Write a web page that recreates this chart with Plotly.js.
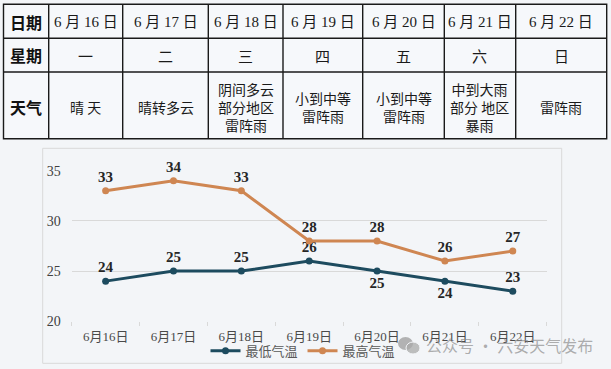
<!DOCTYPE html>
<html><head><meta charset="utf-8">
<script src="https://cdn.plot.ly/plotly-3.0.1.min.js"></script>
<style>body{margin:0;background:#f3f5f8}#chart{width:611px;height:369px}</style>
</head><body><div id="chart"></div>
<script>
// ---- data ----
const categories = ["6月16日","6月17日","6月18日","6月19日","6月20日","6月21日","6月22日"];
const tableDates = ["6 月 16 日","6 月 17 日","6 月 18 日","6 月 19 日","6 月 20 日","6 月 21 日","6 月 22 日"];
const weekdays = ["一","二","三","四","五","六","日"];
const weather = ["晴 天","晴转多云","阴间多云<br>部分地区<br>雷阵雨","小到中等<br>雷阵雨","小到中等<br>雷阵雨","中到大雨<br>部分 地区<br>暴雨","雷阵雨"];
const rowHeaders = ["日期","星期","天气"];
const minTemp = [24,25,25,26,25,24,23];
const maxTemp = [33,34,33,28,28,26,27];
const minLabelPos = ["top center","top center","top center","top center","bottom center","bottom center","top center"];
const seriesNames = ["最低气温","最高气温"];
const yTicks = [20,25,30,35];
const watermark = "公众号 · 六安天气发布";

// ---- layout geometry (pixels) ----
const W = 611, H = 369;
const colEdges = [3.5,48.7,122.7,208.3,283,362.7,444.3,515.7,606.7];
const rowEdges = [4.3,38.3,72,138.7];
const rowCenters = [21.5,55.5,107.3];
const px = x => x / W, py = y => 1 - y / H;

const shapes = [];
const annotations = [];
const lineStyle = {color:"#1a1a1a", width:1.4};
// table outer + grid
shapes.push({type:"rect", xref:"paper", yref:"paper", x0:px(colEdges[0]), x1:px(colEdges[colEdges.length-1]), y0:py(rowEdges[0]), y1:py(rowEdges[rowEdges.length-1]), line:lineStyle, fillcolor:"#f6f8fb", layer:"below"});
colEdges.slice(1,-1).forEach(x => shapes.push({type:"line", xref:"paper", yref:"paper", x0:px(x), x1:px(x), y0:py(rowEdges[0]), y1:py(rowEdges[3]), line:lineStyle}));
rowEdges.slice(1,-1).forEach(y => shapes.push({type:"line", xref:"paper", yref:"paper", x0:px(colEdges[0]), x1:px(colEdges[8]), y0:py(y), y1:py(y), line:lineStyle}));
// chart frame
shapes.push({type:"rect", xref:"paper", yref:"paper", x0:px(42.7), x1:px(561.7), y0:py(148.3), y1:py(363.3), line:{color:"#d9d9d9", width:1}, layer:"below"});

const cellFont = {family:"Noto Sans CJK SC, sans-serif", size:14, color:"#1a1a1a"};
rowHeaders.forEach((t,i) => annotations.push({xref:"paper", yref:"paper", x:px((colEdges[0]+colEdges[1])/2), y:py(rowCenters[i]), text:"<b>"+t+"</b>", showarrow:false, xanchor:"center", yanchor:"middle", font:{family:"Noto Sans CJK SC, sans-serif", size:16, color:"#111"}}));
const rows = [tableDates, weekdays, weather];
rows.forEach((r,ri) => r.forEach((t,ci) => annotations.push({xref:"paper", yref:"paper", x:px((colEdges[ci+1]+colEdges[ci+2])/2), y:py(rowCenters[ri]), text:t, showarrow:false, xanchor:"center", yanchor:"middle",
  font: ri===0 ? {family:"Liberation Serif, Noto Sans CJK SC, serif", size:15, color:"#1a1a1a"} : (ri===1 ? {family:"Noto Sans CJK SC, sans-serif", size:15, color:"#1a1a1a"} : cellFont)})));

// watermark
annotations.push({xref:"paper", yref:"paper", x:px(424), y:py(345), text:watermark, showarrow:false, xanchor:"left", yanchor:"middle", font:{family:"Noto Sans CJK SC, sans-serif", size:16, color:"rgba(140,140,140,0.7)"}});
shapes.push({type:"circle", xref:"paper", yref:"paper", x0:px(398), x1:px(413), y0:py(350), y1:py(337), fillcolor:"rgba(150,150,150,0.7)", line:{width:0}});
shapes.push({type:"circle", xref:"paper", yref:"paper", x0:px(406), x1:px(420), y0:py(354), y1:py(342), fillcolor:"rgba(170,170,170,0.75)", line:{color:"#f3f5f8", width:1}});

const labelFont = {family:"Liberation Serif, serif", size:15, color:"#262626", weight:700};
const traces = [
  {x:categories, y:minTemp, name:seriesNames[0], type:"scatter", mode:"lines+markers+text", text:minTemp.map(String), textposition:minLabelPos, textfont:labelFont,
   line:{color:"#1d4b5f", width:3}, marker:{size:7, color:"#1d4b5f"}, cliponaxis:false},
  {x:categories, y:maxTemp, name:seriesNames[1], type:"scatter", mode:"lines+markers+text", text:maxTemp.map(String), textposition:"top center", textfont:labelFont,
   line:{color:"#cf8652", width:3}, marker:{size:7, color:"#cf8652"}, cliponaxis:false}
];

const layout = {
  width:W, height:H, margin:{l:0,r:0,t:0,b:0},
  paper_bgcolor:"#f3f5f8", plot_bgcolor:"rgba(0,0,0,0)",
  showlegend:true,
  legend:{orientation:"h", x:px(303), y:py(350.7), xanchor:"center", yanchor:"middle", font:{family:"Liberation Serif, Noto Sans CJK SC, serif", size:13, color:"#595959"}, bgcolor:"rgba(0,0,0,0)", itemwidth:30, tracegroupgap:0},
  xaxis:{domain:[px(71.7), px(546.7)], range:[-0.5,6.5], type:"category", showgrid:false, zeroline:false, showline:false,
    ticks:"outside", tickson:"boundaries", ticklen:4, tickcolor:"#d9d9d9", ticklabelstandoff:6,
    tickfont:{family:"Liberation Serif, Noto Sans CJK SC, serif", size:13, color:"#4a4a4a"}, anchor:"y"},
  yaxis:{domain:[py(321.3), py(170.7)], range:[20,35], tickvals:yTicks, showgrid:true, gridcolor:"#d9d9d9", gridwidth:1, zeroline:false, showline:false,
    ticks:"", ticklabelstandoff:10, tickfont:{family:"Liberation Serif, serif", size:14, color:"#404040"}},
  shapes:shapes, annotations:annotations
};
Plotly.newPlot("chart", traces, layout, {displayModeBar:false, staticPlot:true});
</script></body></html>
